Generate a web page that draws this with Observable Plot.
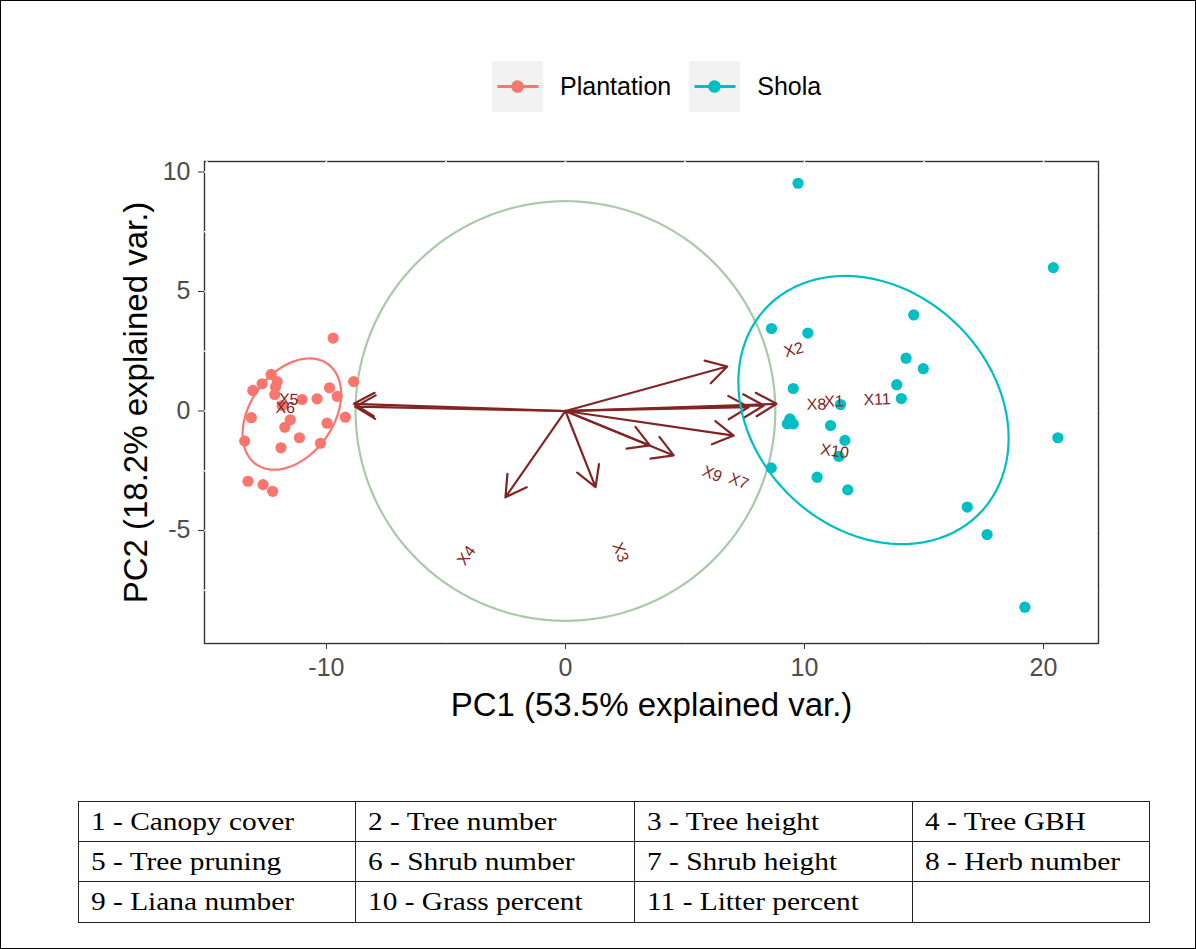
<!DOCTYPE html>
<html><head><meta charset="utf-8">
<script src="https://cdn.jsdelivr.net/npm/d3@7"></script>
<script src="https://cdn.jsdelivr.net/npm/@observablehq/plot@0.6"></script>
<style>
html,body{margin:0;padding:0;background:#fff;}
#page{position:relative;width:1196px;height:949px;overflow:hidden;background:#fff;font-family:Arial,"Liberation Sans",sans-serif;}
#border{position:absolute;left:0;top:0;width:1196px;height:949px;box-sizing:border-box;border:1px solid #000;pointer-events:none;}
#legend{position:absolute;top:61px;left:492px;display:flex;align-items:center;height:51px;}
.key{width:51px;height:51px;background:#F2F2F2;}
.lab{font-size:25px;color:#000;margin-left:17px;margin-right:18px;line-height:51px;}
#chart{position:absolute;left:0;top:130px;}
#tbl{position:absolute;left:78px;top:801px;display:grid;grid-template-columns:277px 279px 278px 236px;grid-template-rows:40px 40px 40px;border:1.5px solid #222;font-family:"Liberation Serif","Times New Roman",serif;font-size:26px;color:#000;}
#tbl div.cell{box-sizing:border-box;border-right:1.5px solid #222;border-bottom:1.5px solid #222;padding-left:12px;display:flex;align-items:center;white-space:nowrap;}
#tbl div.cell span{display:inline-block;transform:scaleX(1.13);transform-origin:left center;}
</style>
</head>
<body>
<div id="page">
  <div id="legend"></div>
  <div id="chart"></div>
  <div id="tbl"></div>
  <div id="border"></div>
</div>
<script>
// ---------- data ----------
const groups = ["Plantation", "Shola"];
const groupColors = ["#F8766D", "#00BFC4"];

const plantationX = [-9.72, -8.86, -12.31, -12.06, -12.69, -13.08, -12.13, -12.16, -9.87, -9.55, -11.02, -10.39, -11.85, -9.21, -13.14, -11.51, -11.74, -9.97, -11.13, -13.42, -10.25, -11.90, -13.28, -12.65, -12.25];
const plantationY = [3.05, 1.23, 1.53, 1.23, 1.14, 0.86, 1.00, 0.69, 0.97, 0.61, 0.48, 0.51, 0.23, -0.26, -0.28, -0.37, -0.68, -0.51, -1.12, -1.26, -1.35, -1.54, -2.94, -3.08, -3.36];

const sholaX = [9.73, 20.41, 14.57, 8.62, 10.14, 14.25, 14.97, 13.86, 14.05, 9.53, 11.51, 9.39, 9.53, 9.28, 11.09, 11.69, 20.60, 11.44, 8.61, 10.53, 11.81, 16.81, 17.64, 19.22];
const sholaY = [9.53, 6.00, 4.02, 3.45, 3.26, 2.21, 1.77, 1.10, 0.52, 0.94, 0.27, -0.33, -0.54, -0.54, -0.61, -1.23, -1.12, -1.90, -2.38, -2.77, -3.30, -4.02, -5.17, -8.21];

const varNames = ["X1", "X2", "X3", "X4", "X5", "X6", "X7", "X8", "X9", "X10", "X11"];
const arrowX = [8.30, 6.77, 1.26, -2.51, -8.85, -8.80, 4.53, 7.67, 3.53, 7.04, 8.83];
const arrowY = [0.23, 1.86, -3.19, -3.61, 0.30, 0.18, -1.86, 0.16, -1.44, -1.03, 0.30];
const labelX = [11.23, 9.55, 2.30, -4.14, -11.58, -11.72, 7.25, 10.50, 6.14, 11.26, 13.04];
const labelY = [0.40, 2.56, -5.91, -6.05, 0.48, 0.13, -2.94, 0.27, -2.63, -1.68, 0.48];

const circleRadius = 8.78;
const ellipseProb = 0.68;

const xTicks = [-10, 0, 10, 20];
const yTicks = [-5, 0, 5, 10];
const xGrid = [-15, -10, -5, 0, 5, 10, 15, 20];
const yGrid = [-7.5, -5, -2.5, 0, 2.5, 5, 7.5, 10];
const xTitle = "PC1 (53.5% explained var.)";
const yTitle = "PC2 (18.2% explained var.)";

const varDescriptions = ["Canopy cover", "Tree number", "Tree height", "Tree GBH", "Tree pruning", "Shrub number", "Shrub height", "Herb number", "Liana number", "Grass percent", "Litter percent"];

// ---------- derived tables ----------
const points = [
  ...plantationX.map((x, i) => ({x, y: plantationY[i], g: groups[0]})),
  ...sholaX.map((x, i) => ({x, y: sholaY[i], g: groups[1]}))
];
const vars = varNames.map((n, i) => ({
  n, x: arrowX[i], y: arrowY[i], lx: labelX[i], ly: labelY[i],
  angle: -Math.atan(arrowY[i] / arrowX[i]) * 180 / Math.PI
}));

// normal-probability ellipse from group covariance (as ggbiplot)
function ellipseOf(xs, ys, g) {
  const n = xs.length, mx = d3.mean(xs), my = d3.mean(ys);
  let sxx = 0, syy = 0, sxy = 0;
  for (let i = 0; i < n; i++) {
    sxx += (xs[i] - mx) ** 2; syy += (ys[i] - my) ** 2; sxy += (xs[i] - mx) * (ys[i] - my);
  }
  sxx /= n - 1; syy /= n - 1; sxy /= n - 1;
  const r11 = Math.sqrt(sxx), r12 = sxy / r11, r22 = Math.sqrt(syy - r12 * r12);
  const ed = Math.sqrt(-2 * Math.log(1 - ellipseProb));
  return d3.range(101).map(k => {
    const t = -Math.PI + 2 * Math.PI * k / 100;
    const c = Math.cos(t), s = Math.sin(t);
    return {x: mx + ed * c * r11, y: my + ed * (c * r12 + s * r22), g};
  });
}
const ellipses = [
  ...ellipseOf(plantationX, plantationY, groups[0]),
  ...ellipseOf(sholaX, sholaY, groups[1])
];
const circle = d3.range(201).map(k => {
  const t = 2 * Math.PI * k / 200;
  return {x: circleRadius * Math.cos(t), y: circleRadius * Math.sin(t)};
});

const arrowColor = "#832424";

const plot = Plot.plot({
  width: 1196, height: 600,
  marginLeft: 204, marginRight: 98, marginTop: 31, marginBottom: 87,
  x: {domain: [-15.1, 22.3]},
  y: {domain: [-9.73, 10.44]},
  color: {domain: groups, range: groupColors},
  style: {fontFamily: "Arial, 'Liberation Sans', sans-serif", background: "transparent", overflow: "visible"},
  marks: [
    Plot.frame({stroke: "#333", strokeWidth: 1.4}),
    Plot.ruleX(xGrid, {stroke: "white", strokeWidth: 1.6}),
    Plot.ruleY(yGrid, {stroke: "white", strokeWidth: 1.6}),
    Plot.line(circle, {x: "x", y: "y", stroke: "#A9C9A9", strokeWidth: 2.2}),
    Plot.arrow(vars, {x1: 0, y1: 0, x2: "x", y2: "y", stroke: arrowColor, strokeWidth: 2.2, headLength: 16, bend: false}),
    Plot.dot(points, {x: "x", y: "y", fill: "g", r: 5.6}),
    Plot.line(ellipses, {x: "x", y: "y", z: "g", stroke: "g", strokeWidth: 2.2}),
    Plot.text(vars, {x: "lx", y: "ly", text: "n", rotate: "angle", fill: arrowColor, fontSize: 16}),
    Plot.axisX({ticks: xTicks, tickFormat: d => String(d), tickSize: 6, tickPadding: 9, fontSize: 25, fill: "#4d4d4d", stroke: "#333", label: null}),
    Plot.axisY({ticks: yTicks, tickFormat: d => String(d), tickSize: 6, tickPadding: 8, fontSize: 25, fill: "#4d4d4d", stroke: "#333", label: null}),
    Plot.text([xTitle], {text: d => d, frameAnchor: "bottom", dy: 62, fontSize: 33, fill: "#000", lineAnchor: "middle", textAnchor: "middle"}),
    Plot.text([yTitle], {text: d => d, frameAnchor: "left", dx: -68, rotate: -90, fontSize: 33, fill: "#000", lineAnchor: "middle", textAnchor: "middle"})
  ]
});
document.getElementById("chart").appendChild(plot);

// ---------- legend ----------
const colorScale = plot.scale("color");
const legend = document.getElementById("legend");
groups.forEach(g => {
  const c = colorScale.apply(g);
  const key = document.createElement("div");
  key.className = "key";
  key.innerHTML = `<svg width="51" height="51"><line x1="5.5" x2="46.5" y1="25.5" y2="25.5" stroke="${c}" stroke-width="3"/><circle cx="25.5" cy="25.5" r="6.3" fill="${c}"/></svg>`;
  legend.appendChild(key);
  const lab = document.createElement("div");
  lab.className = "lab";
  lab.textContent = g;
  legend.appendChild(lab);
});

// ---------- variable table ----------
const tbl = document.getElementById("tbl");
const nCols = 4, nRows = 3;
for (let r = 0; r < nRows; r++) {
  for (let c = 0; c < nCols; c++) {
    const i = r * nCols + c;
    const cell = document.createElement("div");
    cell.className = "cell";
    if (c === nCols - 1) cell.style.borderRight = "none";
    if (r === nRows - 1) cell.style.borderBottom = "none";
    if (i < varDescriptions.length) {
      const s = document.createElement("span");
      s.textContent = `${i + 1} - ${varDescriptions[i]}`;
      cell.appendChild(s);
    }
    tbl.appendChild(cell);
  }
}
</script>
</body></html>
